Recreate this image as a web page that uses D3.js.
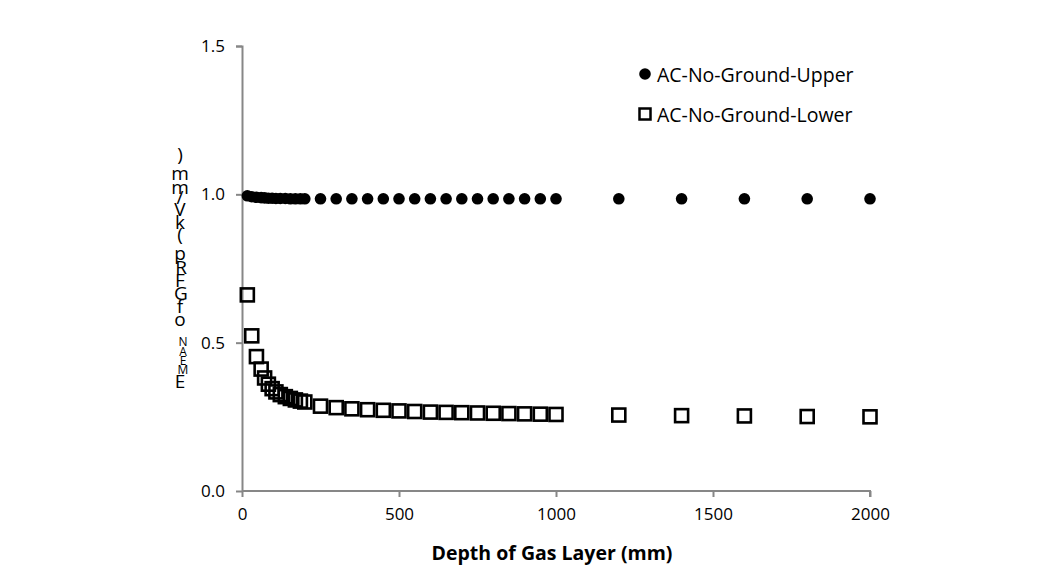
<!DOCTYPE html>
<html>
<head>
<meta charset="utf-8">
<script src="https://cdn.jsdelivr.net/npm/d3@7"></script>
<style>
  body { margin: 0; background: #fff; }
  text { font-family: "Open Sans", "Noto Sans", sans-serif; fill: #000; }
</style>
</head>
<body>
<script>
// depth of gas layer (mm)
const depthX = [17, 31, 46, 61, 72, 84, 96, 108, 122, 138, 154, 170, 186, 200,
  250, 300, 350, 400, 450, 500, 550, 600, 650, 700, 750, 800, 850, 900, 950, 1000,
  1200, 1400, 1600, 1800, 2000];
const upperY = [0.995, 0.992, 0.990, 0.989, 0.988, 0.987, 0.987, 0.986, 0.986, 0.986, 0.985, 0.985, 0.985, 0.985,
  0.985, 0.985, 0.985, 0.985, 0.985, 0.985, 0.985, 0.985, 0.985, 0.985, 0.985, 0.985, 0.985, 0.985, 0.985, 0.985,
  0.985, 0.985, 0.985, 0.985, 0.985];
const lowerY = [0.661, 0.523, 0.453, 0.411, 0.381, 0.360, 0.345, 0.334, 0.325, 0.318, 0.312, 0.307, 0.303, 0.300,
  0.286, 0.281, 0.277, 0.274, 0.272, 0.270, 0.268, 0.266, 0.265, 0.264, 0.263, 0.262, 0.261, 0.260, 0.259, 0.258,
  0.256, 0.254, 0.253, 0.251, 0.250];
const xTicks = [0, 500, 1000, 1500, 2000];
const yTicks = [0, 0.5, 1.0, 1.5];
const seriesNames = ["AC-No-Ground-Upper", "AC-No-Ground-Lower"];

const W = 1052, H = 587;
const margin = { top: 46, right: 182, bottom: 96, left: 242 };
const width = W - margin.left - margin.right;
const height = H - margin.top - margin.bottom;

const svg = d3.select("body").append("svg")
  .attr("width", W).attr("height", H);
const g = svg.append("g")
  .attr("transform", "translate(" + margin.left + "," + margin.top + ")");

const x = d3.scaleLinear().domain([0, 2000]).range([0, width]);
const y = d3.scaleLinear().domain([0, 1.5]).range([height, 0]);

// axes
const xAxis = g.append("g").attr("transform", "translate(0," + height + ")")
  .call(d3.axisBottom(x).tickValues(xTicks).tickSize(6).tickPadding(11).tickFormat(d3.format("d")));
const yAxis = g.append("g")
  .call(d3.axisLeft(y).tickValues(yTicks).tickSize(6).tickPadding(11).tickFormat(d3.format(".1f")));
[xAxis, yAxis].forEach(a => {
  a.select(".domain").attr("stroke", "#878787").attr("stroke-width", 2);
  a.selectAll(".tick line").attr("stroke", "#878787").attr("stroke-width", 2);
  a.selectAll(".tick text").style("font-size", "17px").attr("fill", "#000");
});
yAxis.select(".domain").attr("d", "M-6,0.5H0.5V" + height);
xAxis.select(".domain").attr("d", "M0,0H" + width + "V6");

// x axis title
g.append("text")
  .attr("x", width / 2 - 4).attr("y", height + 69)
  .attr("text-anchor", "middle")
  .style("font-size", "19.5px").style("font-weight", "bold")
  .text("Depth of Gas Layer (mm)");

// y axis title: stacked characters, read bottom to top (as in the original)
const yLabel = [
  { c: "E", y: 381, s: 19, dx: 0 },
  { c: "M", y: 369, s: 12, dx: 3 }, { c: "E", y: 360, s: 12, dx: 3 }, { c: "A", y: 351, s: 12, dx: 3 }, { c: "N", y: 341, s: 12, dx: 3 },
  { c: "o", y: 319, s: 19, dx: 0 }, { c: "f", y: 306, s: 19, dx: 0 },
  { c: "G", y: 293, s: 19, dx: 1 }, { c: "F", y: 280, s: 19, dx: 0 }, { c: "R", y: 267, s: 19, dx: 1 }, { c: "p", y: 253, s: 19, dx: 0 },
  { c: "(", y: 234, s: 19, dx: 0 }, { c: "k", y: 222, s: 19, dx: 0 }, { c: "V", y: 209, s: 19, dx: 0 }, { c: "/", y: 197, s: 19, dx: 0 },
  { c: "m", y: 187, s: 19, dx: 0 }, { c: "m", y: 173, s: 19, dx: 0 }, { c: ")", y: 154, s: 19, dx: 0 }
];
svg.append("g").selectAll("text").data(yLabel).join("text")
  .attr("x", d => 180 + d.dx).attr("y", d => d.y)
  .attr("text-anchor", "middle").attr("dominant-baseline", "central")
  .style("font-size", d => d.s + "px")
  .text(d => d.c);

// upper series (filled circles)
g.append("g").selectAll("circle").data(depthX).join("circle")
  .attr("cx", d => x(d)).attr("cy", (d, i) => y(upperY[i]))
  .attr("r", 5.8).attr("fill", "#000");

// lower series (open squares)
const sq = 13;
g.append("g").selectAll("rect").data(depthX).join("rect")
  .attr("x", d => x(d) - sq / 2).attr("y", (d, i) => y(lowerY[i]) - sq / 2)
  .attr("width", sq).attr("height", sq)
  .attr("fill", "none").attr("stroke", "#000").attr("stroke-width", 2.6);

// legend
const legend = svg.append("g").attr("transform", "translate(645,74)");
legend.append("circle").attr("cx", 0).attr("cy", 0).attr("r", 5.8).attr("fill", "#000");
legend.append("rect").attr("x", -5.5).attr("y", 34.5).attr("width", 11).attr("height", 11)
  .attr("fill", "none").attr("stroke", "#000").attr("stroke-width", 2.5);
legend.selectAll("text.lg").data(seriesNames).join("text").attr("class", "lg")
  .attr("x", 12).attr("y", (d, i) => i * 40)
  .attr("dominant-baseline", "central")
  .style("font-size", "19.5px")
  .text(d => d);
</script>
</body>
</html>
